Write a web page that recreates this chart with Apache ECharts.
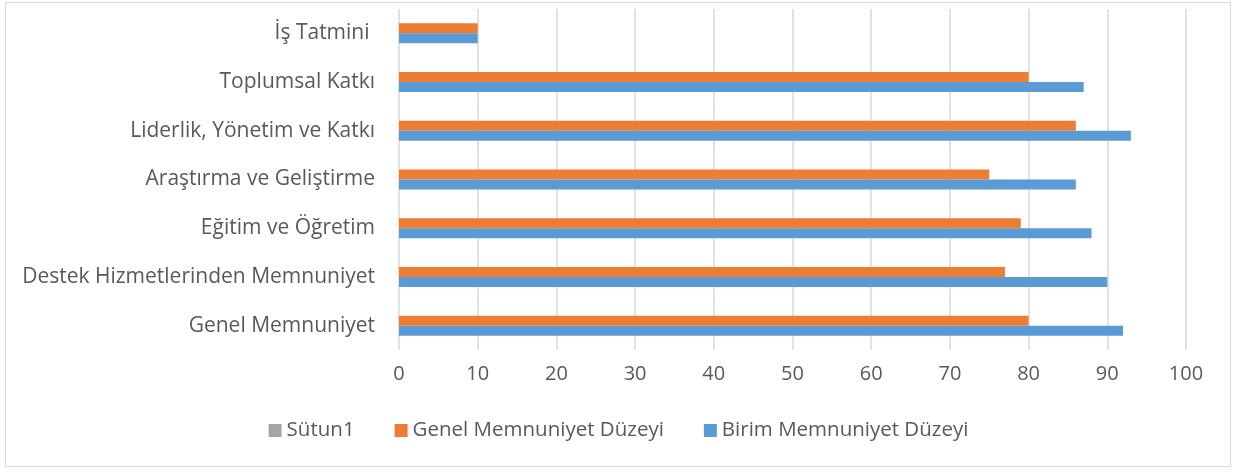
<!DOCTYPE html>
<html>
<head>
<meta charset="utf-8">
<script src="https://cdn.jsdelivr.net/npm/echarts@6/dist/echarts.min.js"></script>
<style>
  html, body { margin: 0; padding: 0; background: #fff; }
  #chart { width: 1237px; height: 472px; }
  .frame { position: absolute; left: 5px; top: 2px; width: 1226px; height: 465px; border: 1px solid #d9d9d9; box-sizing: border-box; pointer-events: none; }
</style>
</head>
<body>
<div id="chart"></div>
<div class="frame"></div>
<script>
  // kategoriler (aşağıdan yukarıya)
  const categories = [
    'Genel Memnuniyet',
    'Destek Hizmetlerinden Memnuniyet',
    'Eğitim ve Öğretim',
    'Araştırma ve Geliştirme',
    'Liderlik, Yönetim ve Katkı',
    'Toplumsal Katkı',
    'İş Tatmini '
  ]
  const sutun1 = []
  const genelDuzey = [80, 77, 79, 75, 86, 80, 10]
  const birimDuzey = [92, 90, 88, 86, 93, 87, 10]
  const xTicks = [0, 10, 20, 30, 40, 50, 60, 70, 80, 90, 100]

  const chart = echarts.init(document.getElementById('chart'))
  const txt = '#595959'
  const font = '"Open Sans", Lato, sans-serif'

  chart.setOption({
    animation: false,
    textStyle: { fontFamily: font },
    grid: { left: 399, right: 51, top: 9, bottom: 122, containLabel: false },
    legend: {
      bottom: 26,
      left: 'center',
      itemWidth: 13,
      itemHeight: 13,
      itemGap: 40,
      icon: 'rect',
      textStyle: { color: txt, fontSize: 20.5, fontFamily: font },
      data: ['Sütun1', 'Genel Memnuniyet Düzeyi', 'Birim Memnuniyet Düzeyi']
    },
    xAxis: {
      type: 'value',
      min: xTicks[0],
      max: xTicks[xTicks.length - 1],
      interval: 10,
      axisLine: { show: false },
      axisTick: { show: false },
      splitLine: { lineStyle: { color: '#d9d9d9', width: 1.5 } },
      axisLabel: { color: txt, fontSize: 20, margin: 14, fontFamily: font }
    },
    yAxis: {
      type: 'category',
      data: categories,
      axisLine: { show: false },
      axisTick: { show: false },
      axisLabel: { color: txt, fontSize: 21, margin: 24, fontFamily: font }
    },
    series: [
      {
        name: 'Sütun1',
        type: 'line',
        data: sutun1,
        itemStyle: { color: '#a5a5a5' }
      },
      {
        name: 'Genel Memnuniyet Düzeyi',
        type: 'bar',
        data: genelDuzey,
        barWidth: 10,
        barGap: 0,
        itemStyle: { color: '#ed7d31' }
      },
      {
        name: 'Birim Memnuniyet Düzeyi',
        type: 'bar',
        data: birimDuzey,
        barWidth: 10,
        barGap: 0,
        itemStyle: { color: '#5b9bd5' }
      }
    ]
  })
</script>
</body>
</html>
